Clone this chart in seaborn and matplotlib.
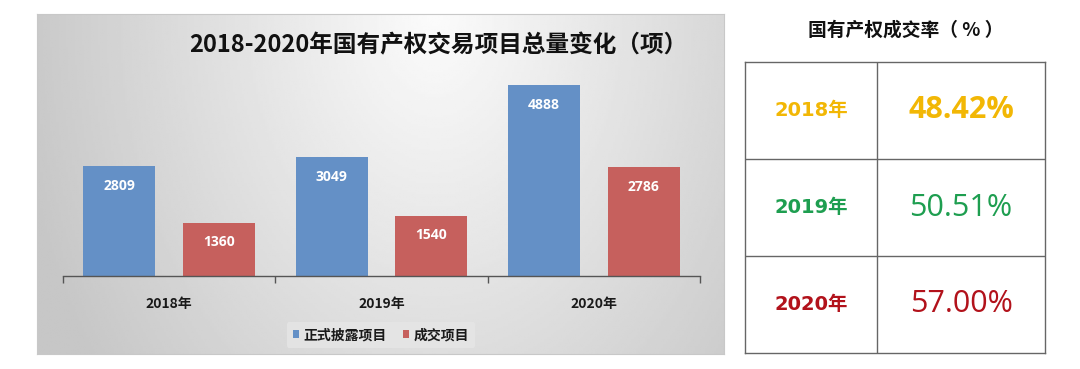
import numpy as np
import pandas as pd
import matplotlib
matplotlib.use("Agg")
import matplotlib.pyplot as plt
import seaborn as sns

# ---- data ----
years = ["2018年", "2019年", "2020年"]
series_names = ["正式披露项目", "成交项目"]
disclosed = [2809, 3049, 4888]
traded = [1360, 1540, 2786]
rate_years = ["2018年", "2019年", "2020年"]
rates = ["48.42%", "50.51%", "57.00%"]

chart_title = "2018-2020年国有产权交易项目总量变化（项）"
table_title = "国有产权成交率（ % ）"

sns.set_theme(style="white")
plt.rcParams['font.family'] = ['Noto Sans CJK SC', 'DejaVu Sans']

W, H = 1080, 369
fig = plt.figure(figsize=(W / 100, H / 100), dpi=100)
fig.patch.set_facecolor("white")

def fx(px):
    return px / W

def fy(py):
    return 1 - py / H

# ---- gradient panel background ----
px0, py0, px1, py1 = 37, 14, 724, 354
bg = fig.add_axes([fx(px0), fy(py1), fx(px1 - px0), (py1 - py0) / H])
gx, gy = np.meshgrid(np.linspace(0, 1, 300), np.linspace(0, 1, 150))
d = np.sqrt(((gx - 0.58) / 0.6) ** 2 + ((gy - 0.0) / 1.7) ** 2)
vals = np.clip(0.985 - 0.2 * d, 0.78, 1)
bg.imshow(vals, cmap="gray", vmin=0, vmax=1, aspect="auto", extent=[0, 1, 1, 0])
bg.set_xticks([]); bg.set_yticks([])
for s in bg.spines.values():
    s.set_color("#C8C8C8"); s.set_linewidth(0.8)

# ---- bar chart ----
ax_l, ax_r, ax_b, ax_t = 63, 700, 276, 60
ax = fig.add_axes([fx(ax_l), fy(ax_b), fx(ax_r - ax_l), (ax_b - ax_t) / H])
ax.patch.set_alpha(0)

df = pd.DataFrame({
    "year": years * 2,
    "series": [series_names[0]] * 3 + [series_names[1]] * 3,
    "value": disclosed + traded,
})
palette = {series_names[0]: "#6490C6", series_names[1]: "#C6605D"}
sns.barplot(data=df, x="year", y="value", hue="series", palette=palette,
            width=0.94, gap=0.28, saturation=1, ax=ax, legend=True, linewidth=0)

ax.set_xlim(-0.5, 2.5)
ax.set_ylim(0, 5540)
ax.set_xlabel(""); ax.set_ylabel("")
ax.set_yticks([])
for side in ["top", "right", "left"]:
    ax.spines[side].set_visible(False)
ax.spines["bottom"].set_color("#555555")
ax.spines["bottom"].set_linewidth(1.0)
ax.set_xticks([-0.5, 0.5, 1.5, 2.5], minor=True)
ax.tick_params(axis="x", which="minor", length=5, width=1, color="#555555", direction="out", bottom=True)
ax.tick_params(axis="x", which="major", length=0, pad=15)
for lbl in ax.get_xticklabels():
    lbl.set_fontsize(10); lbl.set_fontweight("bold"); lbl.set_color("#1a1a1a")

for cont in ax.containers:
    for p in cont.patches:
        ax.annotate(f"{int(round(p.get_height()))}",
                    xy=(p.get_x() + p.get_width() / 2, p.get_height()),
                    xytext=(0, -9), textcoords="offset points",
                    ha="center", va="top", color="white", fontsize=10,
                    fontweight="bold", family=["Open Sans", "DejaVu Sans"])

leg = ax.legend(loc="center", bbox_to_anchor=(fx(381), fy(335)), bbox_transform=fig.transFigure,
                ncol=2, frameon=True, fontsize=10, handlelength=0.45, handleheight=0.55,
                handletextpad=0.3, columnspacing=1.2, borderpad=0.45)
leg.get_frame().set_facecolor("#E6E6E6")
leg.get_frame().set_edgecolor("#E6E6E6")
leg.get_frame().set_linewidth(0)
for t in leg.get_texts():
    t.set_fontweight("bold"); t.set_color("#1a1a1a")

fig.text(fx(438), fy(45), chart_title, ha="center", va="center",
         fontsize=17, fontweight="bold", color="#111111")

# ---- rate table ----
tl, tr, tt, tb = 745, 1045, 62, 353
tax = fig.add_axes([fx(tl), fy(tb), fx(tr - tl), (tb - tt) / H])
tax.set_xlim(0, 1)
tax.set_ylim(len(rates), 0)
tax.set_xticks([]); tax.set_yticks([])
tax.patch.set_facecolor("white")
for s in tax.spines.values():
    s.set_color("#666666"); s.set_linewidth(1.0)
col_div = (877 - tl) / (tr - tl)
tax.axvline(col_div, color="#666666", lw=1.0)
for i in range(1, len(rates)):
    tax.axhline(i, color="#666666", lw=1.0)

colors = ["#F2B705", "#1E9E50", "#B2121B"]
weights = ["bold", "normal", "normal"]
for i, (yr, rt) in enumerate(zip(rate_years, rates)):
    tax.text(col_div / 2, i + 0.5, yr, ha="center", va="center", color=colors[i],
             fontsize=14, fontweight="bold", family=["DejaVu Sans", "Noto Sans CJK SC"])
    tax.text((1 + col_div) / 2, i + 0.5, rt, ha="center", va="center", color=colors[i],
             fontsize=22, fontweight=weights[i], family=["Open Sans", "DejaVu Sans"])

fig.text(fx(906), fy(30), table_title, ha="center", va="center",
         fontsize=13.5, fontweight="bold", color="#111111")

fig.savefig("out.png", dpi=100, facecolor="white")
